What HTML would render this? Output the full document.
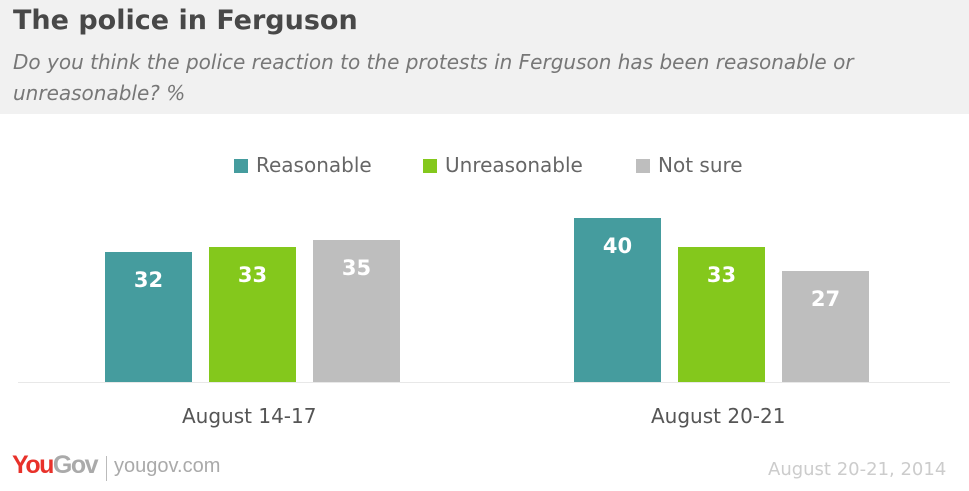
<!DOCTYPE html>
<html><head><meta charset="utf-8"><style>
body{margin:0;width:969px;height:491px;background:#fff;font-family:"DejaVu Sans","Liberation Sans",sans-serif;position:relative;overflow:hidden}
.hd{position:absolute;left:0;top:0;width:969px;height:114px;background:#f1f1f1}
.t{position:absolute;left:13px;top:5px;font-size:27px;font-weight:bold;color:#484848;white-space:nowrap}
.s{position:absolute;left:13px;top:47px;font-size:20px;font-style:italic;color:#777;line-height:31px;width:950px}
.a{position:absolute;white-space:nowrap}
.bar{position:absolute;width:87px}
.v{position:absolute;width:87px;text-align:center;color:#fff;font-weight:bold;font-size:21px}
.lg{position:absolute;top:153px;font-size:20px;color:#666;white-space:nowrap}
.sq{display:inline-block;width:14px;height:14px;margin-right:8px;vertical-align:-1px}
</style></head><body>
<div class="hd"></div>
<div class="t">The police in Ferguson</div>
<div class="s">Do you think the police reaction to the protests in Ferguson has been reasonable or unreasonable? %</div>
<div class="lg" style="left:234px"><span class="sq" style="background:#459c9e"></span>Reasonable</div>
<div class="lg" style="left:423px"><span class="sq" style="background:#84c81c"></span>Unreasonable</div>
<div class="lg" style="left:636px"><span class="sq" style="background:#bebebe"></span>Not sure</div>
<div class="a" style="left:18px;top:382px;width:932px;height:1px;background:#e8e8e8"></div>
<div class="bar" style="left:105px;top:252px;height:130px;background:#459c9e"></div><div class="v" style="left:105px;top:268px">32</div>
<div class="bar" style="left:209px;top:247px;height:135px;background:#84c81c"></div><div class="v" style="left:209px;top:263px">33</div>
<div class="bar" style="left:313px;top:240px;height:142px;background:#bebebe"></div><div class="v" style="left:313px;top:256px">35</div>
<div class="bar" style="left:574px;top:218px;height:164px;background:#459c9e"></div><div class="v" style="left:574px;top:234px">40</div>
<div class="bar" style="left:678px;top:247px;height:135px;background:#84c81c"></div><div class="v" style="left:678px;top:263px">33</div>
<div class="bar" style="left:782px;top:271px;height:111px;background:#bebebe"></div><div class="v" style="left:782px;top:287px">27</div>
<div class="a" style="left:182px;top:404px;font-size:20px;color:#555">August 14-17</div>
<div class="a" style="left:651px;top:404px;font-size:20px;color:#555">August 20-21</div>
<div class="a" style="left:12px;top:451px;font-size:25px;font-weight:bold;letter-spacing:-1.5px;font-family:'Liberation Sans',sans-serif"><span style="color:#e8312a">You</span><span style="color:#aaa">Gov</span></div>
<div class="a" style="left:106px;top:456px;width:1px;height:25px;background:#bbb"></div>
<div class="a" style="left:114px;top:455px;font-size:20px;color:#aaa;font-family:'Liberation Sans',sans-serif">yougov.com</div>
<div class="a" style="left:768px;top:459px;font-size:18px;color:#ccc">August 20-21, 2014</div>
</body></html>
